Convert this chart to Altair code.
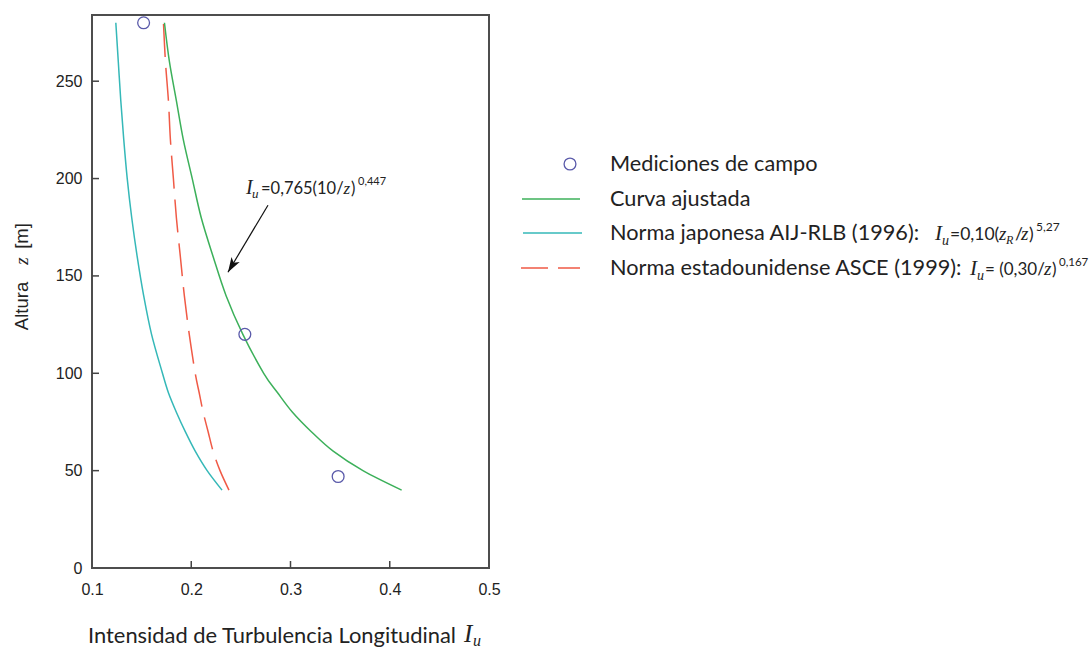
import altair as alt
import pandas as pd

# Field measurements
meas_iu = [0.152, 0.254, 0.348]
meas_z = [280, 120, 47]

# Heights shared by the three profiles
prof_z = [40, 50, 60, 70, 80, 90, 100, 120, 140, 160, 180, 200, 220, 240, 260, 280]
# Fitted curve  Iu = 0,765 (10/z)^0,447
fit_iu = [0.412, 0.373, 0.343, 0.321, 0.302, 0.287, 0.273, 0.252, 0.235, 0.222,
          0.210, 0.201, 0.192, 0.185, 0.178, 0.173]
# Japanese code AIJ-RLB (1996)
aij_iu = [0.231, 0.216, 0.204, 0.194, 0.185, 0.177, 0.171, 0.160, 0.152, 0.1455,
          0.140, 0.1355, 0.132, 0.129, 0.1265, 0.124]
# US code ASCE (1999)
asce_iu = [0.238, 0.229, 0.222, 0.217, 0.212, 0.208, 0.204, 0.198, 0.193, 0.189,
           0.185, 0.182, 0.179, 0.177, 0.174, 0.172]

x_ticks = [0.1, 0.2, 0.3, 0.4, 0.5]
y_ticks = [0, 50, 100, 150, 200, 250]

# Annotation arrow: tail -> head (data units)
arrow_iu = [0.2773, 0.2370]
arrow_z = [186.3, 151.9]

# ---- layout ----
PAD_L, PAD_T = 92, 15
W, H = 397, 553
TOTAL_W, TOTAL_H = 1090, 648

GREEN = "#3cb05a"
CYAN = "#35b8b8"
RED = "#f05a46"
BLUE = "#5a5aaa"
INK = "#222222"
SANS = "Lato"
MATH = "Liberation Serif"

xs = alt.Scale(domain=[0.1, 0.5], nice=False, zero=False)
ys = alt.Scale(domain=[0, 284], nice=False, zero=True)
X = alt.X("iu:Q", scale=xs, axis=alt.Axis(
    values=x_ticks, format=".1f", title=None, grid=False, ticks=False, tickSize=0,
    domain=False, labelFont="Liberation Sans", labelFontSize=16, labelColor=INK,
    labelPadding=13, labelFlush=False))
Y = alt.Y("z:Q", scale=ys, axis=alt.Axis(
    values=y_ticks, format="d", title=None, grid=False, ticks=False, tickSize=0,
    domain=False, labelFont="Liberation Sans", labelFontSize=16, labelColor=INK,
    labelPadding=10, labelFlush=False))

fit_df = pd.DataFrame({"iu": fit_iu, "z": prof_z})
aij_df = pd.DataFrame({"iu": aij_iu, "z": prof_z})
asce_df = pd.DataFrame({"iu": asce_iu, "z": prof_z})
meas_df = pd.DataFrame({"iu": meas_iu, "z": meas_z})

fit_line = alt.Chart(fit_df).mark_line(
    color=GREEN, strokeWidth=1.5, interpolate="cardinal").encode(
    x=X, y=Y, order="z:Q")
aij_line = alt.Chart(aij_df).mark_line(
    color=CYAN, strokeWidth=1.5, interpolate="cardinal").encode(
    x=X, y=Y, order="z:Q")
asce_line = alt.Chart(asce_df).mark_line(
    color=RED, strokeWidth=1.5, strokeDash=[33, 11], interpolate="cardinal").encode(
    x=X, y=Y, order="z:Q")
meas_pts = alt.Chart(meas_df).mark_point(
    shape="circle", filled=False, color=BLUE, size=140, strokeWidth=1.3,
    opacity=1).encode(x=X, y=Y)

# inward tick marks
xt = alt.Chart(pd.DataFrame({"iu": x_ticks[1:-1]})).mark_rule(
    color="#444", strokeWidth=1.5).encode(x=X, y=alt.value(H), y2=alt.value(H - 7))
yt = alt.Chart(pd.DataFrame({"z": y_ticks[1:]})).mark_rule(
    color="#444", strokeWidth=1.5).encode(y=Y, x=alt.value(0), x2=alt.value(7))

# annotation arrow
arrow_df = pd.DataFrame({"iu": [arrow_iu[0]], "z": [arrow_z[0]],
                         "iu2": [arrow_iu[1]], "z2": [arrow_z[1]]})
arrow_line = alt.Chart(arrow_df).mark_rule(color="#111", strokeWidth=1.2).encode(
    x=X, y=Y, x2="iu2:Q", y2="z2:Q")
head_df = pd.DataFrame({"iu": [arrow_iu[1]], "z": [arrow_z[1]]})
arrow_head = alt.Chart(head_df).mark_point(
    shape="M0,0L0.45,1.4L0,1.05L-0.45,1.4Z", filled=True, color="#111",
    size=450, angle=210.9, opacity=1, strokeWidth=0).encode(x=X, y=Y)

one = pd.DataFrame({"k": [0]})


def txt(s, ax, ay, size, font=SANS, style="normal", align="left",
        baseline="alphabetic", angle=0, color=INK):
    """Text placed in page pixels (converted to plot-area pixels)."""
    props = dict(text=s, font=font, fontSize=size, fontStyle=style, align=align,
                 baseline=baseline, color=color)
    if angle:
        props["angle"] = angle
    return alt.Chart(one).mark_text(**props).encode(
        x=alt.value(ax - PAD_L), y=alt.value(ay - PAD_T))


def hline(x0, x1, ay, color, dash=None):
    props = dict(color=color, strokeWidth=1.5)
    if dash:
        props["strokeDash"] = dash
    return alt.Chart(one).mark_rule(**props).encode(
        x=alt.value(x0 - PAD_L), x2=alt.value(x1 - PAD_L), y=alt.value(ay - PAD_T))


LEG = 21.7
MF = 17.5
legend = [
    alt.Chart(one).mark_point(shape="circle", filled=False, color=BLUE, size=140,
                              strokeWidth=1.3, opacity=1).encode(
        x=alt.value(570 - PAD_L), y=alt.value(164 - PAD_T)),
    txt("Mediciones de campo", 610, 171, LEG),
    hline(522, 580, 199, GREEN),
    txt("Curva ajustada", 610, 206, LEG),
    hline(523, 582, 233, CYAN),
    txt("Norma japonesa AIJ-RLB (1996):", 610, 240, LEG),
    txt("I", 935, 240, 21, MATH, "italic"),
    txt("u", 942, 245, 14, MATH, "italic"),
    txt("=0,10(", 950, 240, MF),
    txt("z", 999, 240, 19, MATH, "italic"),
    txt("R", 1006, 244, 12, MATH, "italic"),
    txt("/", 1015, 240, MF),
    txt("z", 1021, 240, 19, MATH, "italic"),
    txt(")", 1029, 240, MF),
    txt("5,27", 1036, 231, 12),
    hline(521, 580, 268, RED, [27, 10]),
    txt("Norma estadounidense ASCE (1999):", 610, 275, LEG),
    txt("I", 970, 275, 21, MATH, "italic"),
    txt("u", 977, 280, 14, MATH, "italic"),
    txt("= (0,30/", 985, 275, 17),
    txt("z", 1044, 275, 19, MATH, "italic"),
    txt(")", 1052, 275, 17),
    txt("0,167", 1059, 266, 11.5),
]

annotation = [
    txt("I", 246, 194, 20, MATH, "italic"),
    txt("u", 252, 198, 13, MATH, "italic"),
    txt("=0,765(10/", 261, 194, 16.5),
    txt("z", 343.5, 194, 17, MATH, "italic"),
    txt(")", 351, 194, 16.5),
    txt("0,447", 358, 185, 11),
]

titles = [
    txt("Intensidad de Turbulencia Longitudinal", 88, 643, 21.9),
    txt("I", 464, 642, 25, MATH, "italic"),
    txt("u", 473, 646, 16, MATH, "italic"),
    txt("Altura", 28, 306, 18.5, "Liberation Sans", align="center", angle=270),
    txt("z", 28, 261, 19, MATH, "italic", align="center", angle=270),
    txt("[m]", 28, 236, 18.5, "Liberation Sans", align="center", angle=270),
]

chart = alt.layer(
    aij_line, asce_line, fit_line, meas_pts, xt, yt, arrow_line, arrow_head,
    *legend, *annotation, *titles
).properties(
    width=W, height=H,
    padding={"left": PAD_L, "top": PAD_T, "right": TOTAL_W - PAD_L - W,
             "bottom": TOTAL_H - PAD_T - H},
    autosize=alt.AutoSizeParams(type="none"),
    background="white",
).configure_view(stroke="#4d4d4d", strokeWidth=2)

chart.save("out.html", embed_options={"renderer": "svg", "actions": False})
